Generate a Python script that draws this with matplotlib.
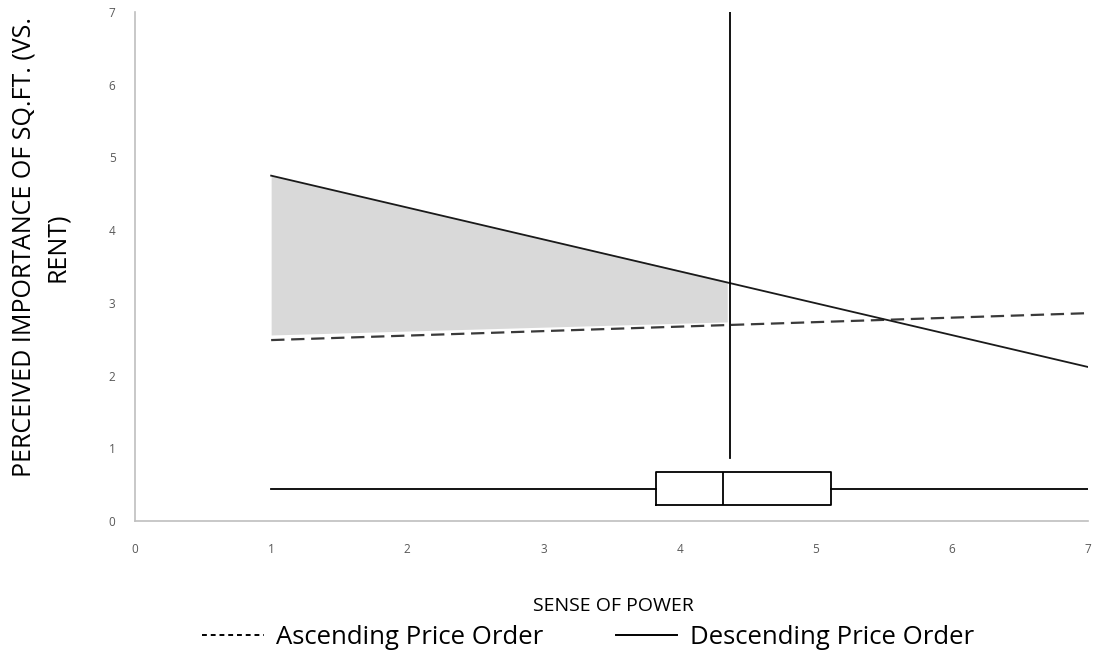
import numpy as np
import matplotlib.pyplot as plt
from matplotlib.lines import Line2D

plt.rcParams['font.family'] = ['Open Sans', 'DejaVu Sans']

# simple-slope lines (sense of power -> perceived importance)
power = [1, 7]
ascending = [2.49, 2.86]
descending = [4.75, 2.12]

# region of significance (shaded) up to the Johnson-Neyman point
jn_point = 4.37
shade_x = [1, 4.35]
shade_top = [4.75, 3.30]
shade_bot = [2.56, 2.74]

# distribution of sense of power (box plot)
box_min, box_q1, box_med, box_q3, box_max = 1.0, 3.83, 4.32, 5.11, 7.0
box_y = 0.45

fig = plt.figure(figsize=(10.93, 6.64), dpi=100)
ax = fig.add_axes([0.1235, 0.215, 0.872, 0.767])

ax.fill_between(shade_x, shade_bot, shade_top, color='#d9d9d9', lw=0)
ax.plot(power, ascending, color='#3a3a3a', lw=1.6, ls=(0, (6, 3)))
ax.plot(power, descending, color='#1a1a1a', lw=1.3)
ax.plot([jn_point, jn_point], [0.87, 7], color='black', lw=1.3)

# horizontal box plot
ax.bxp([{'whislo': box_min, 'q1': box_q1, 'med': box_med, 'q3': box_q3,
         'whishi': box_max, 'fliers': []}],
       positions=[box_y], widths=0.44, vert=False, showcaps=False,
       boxprops=dict(color='black', lw=1.3),
       whiskerprops=dict(color='black', lw=1.3),
       medianprops=dict(color='black', lw=1.3), manage_ticks=False)

ax.set_xlim(0, 7)
ax.set_ylim(0, 7)
ax.set_xticks(range(0, 8))
ax.set_yticks(range(0, 8))
ax.tick_params(length=0, labelsize=8.5, colors='#595959', pad=16)
ax.tick_params(axis='y', pad=14)
for s in ['top', 'right']:
    ax.spines[s].set_visible(False)
for s in ['left', 'bottom']:
    ax.spines[s].set_color('#bfbfbf')
    ax.spines[s].set_linewidth(1.2)

fig.text(0.037, 0.628, 'PERCEIVED IMPORTANCE OF SQ.FT. (VS.\nRENT)', rotation=90,
         ha='center', va='center', fontsize=18, linespacing=1.45)
fig.text(0.561, 0.088, 'SENSE OF POWER', ha='center', va='center', fontsize=14)

handles = [Line2D([], [], color='black', lw=1.4, ls=(0, (2.5, 2))),
           Line2D([], [], color='black', lw=1.4)]
fig.legend(handles, ['Ascending Price Order', 'Descending Price Order'],
           loc='center', bbox_to_anchor=(0.538, 0.04), ncol=2, frameon=False,
           fontsize=18.5, handlelength=2.4, handletextpad=0.5, columnspacing=2.8)

fig.savefig('out.png', dpi=100)
